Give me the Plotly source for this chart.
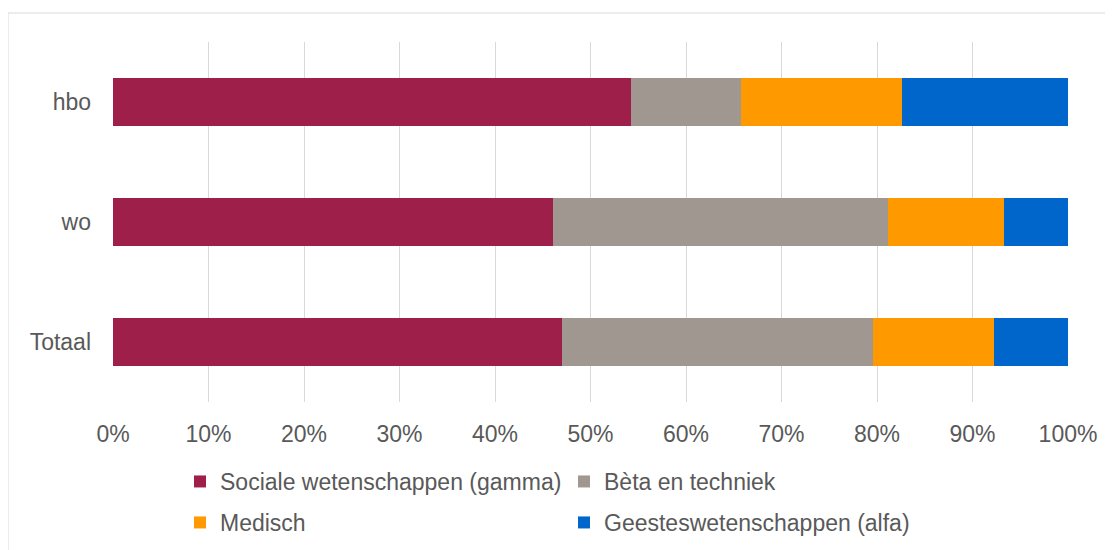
import plotly.graph_objects as go

categories = ["Totaal", "wo", "hbo"]

series_names = [
    "Sociale wetenschappen (gamma)",
    "Bèta en techniek",
    "Medisch",
    "Geesteswetenschappen (alfa)",
]
sociale = [47.0, 46.1, 54.2]
beta = [32.6, 35.1, 11.6]
medisch = [12.7, 12.1, 16.8]
geestes = [7.7, 6.7, 17.4]

colors = ["#9E1F4A", "#A09791", "#FF9900", "#0066CC"]
tick_vals = [0, 10, 20, 30, 40, 50, 60, 70, 80, 90, 100]
tick_text = [f"{v}%" for v in tick_vals]

# the page puts the figure 8px in from the top-left, so margins are shifted by that
W, H = 1113, 550
L, R, T, B = 105, 53, 34, 156
pw, ph = W - L - R, H - T - B
bottom = T + ph


def px_x(p):
    return (p - L) / pw


def px_y(p):
    return (bottom - p) / ph


fig = go.Figure()
legends = ["legend", "legend", "legend2", "legend2"]
for name, vals, col, lg in zip(series_names, [sociale, beta, medisch, geestes], colors, legends):
    fig.add_trace(go.Bar(
        y=categories, x=vals, name=name, orientation="h",
        marker=dict(color=col, line=dict(width=0)),
        legend=lg,
    ))

font = dict(family="Liberation Sans, Arial, sans-serif", size=23, color="#595959")

# outer chart border (as in the Excel export)
fig.add_shape(
    type="rect", xref="paper", yref="paper", layer="below",
    x0=px_x(0), x1=px_x(1130),
    y0=px_y(570), y1=px_y(5),
    line=dict(color="#D9D9D9", width=1), fillcolor="rgba(0,0,0,0)",
)

legend_common = dict(
    orientation="h", xanchor="left", yanchor="top",
    entrywidth=339, entrywidthmode="pixels",
    traceorder="normal", itemwidth=30,
    font=font, bgcolor="rgba(0,0,0,0)",
)

fig.update_layout(
    width=W, height=H,
    margin=dict(l=L, r=R, t=T, b=B),
    barmode="stack", bargap=0.6,
    plot_bgcolor="white", paper_bgcolor="white",
    font=font,
    xaxis=dict(
        range=[0, 100], tickvals=tick_vals, ticktext=tick_text,
        showgrid=True, gridcolor="#D9D9D9", gridwidth=1,
        zeroline=False, showline=False, ticks="",
        ticklabelstandoff=16, fixedrange=True,
    ),
    yaxis=dict(
        categoryorder="array", categoryarray=categories,
        showgrid=False, zeroline=False, showline=False, ticks="",
        ticklabelstandoff=21,
    ),
    legend=dict(x=px_x(172), y=px_y(452), **legend_common),
    legend2=dict(x=px_x(172), y=px_y(493), **legend_common),
    showlegend=True,
)

fig.write_html("out.html")
